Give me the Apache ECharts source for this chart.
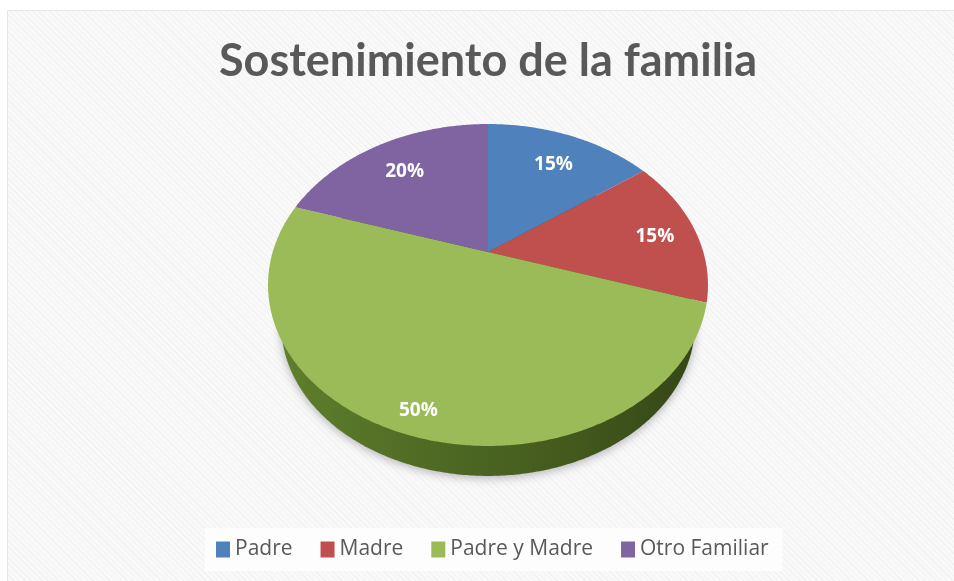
<!DOCTYPE html>
<html>
<head>
<meta charset="utf-8">
<style>
html,body{margin:0;padding:0;width:954px;height:581px;background:#fff;overflow:hidden}
#frame{position:absolute;left:7px;top:10px;width:947px;height:571px;border-left:1px solid #e6e6e6;border-top:1px solid #e6e6e6;box-sizing:border-box;
background:#f7f7f7 repeating-linear-gradient(45deg,#f2f2f2 0,#f2f2f2 1px,#f9f9f9 1px,#f9f9f9 4px)}
#chart{position:absolute;left:0;top:0;width:954px;height:581px}
</style>
</head>
<body>
<div id="frame"></div>
<div id="chart"></div>
<script src="https://cdn.jsdelivr.net/npm/echarts@6/dist/echarts.min.js"></script>
<script>
const titleText = 'Sostenimiento de la familia';
const categories = ['Padre', 'Madre', 'Padre y Madre', 'Otro Familiar'];
const shares = [15, 15, 50, 20];
const colors = ['#4f81bd', '#c0504d', '#9bbb59', '#8064a2'];

// Perspective disc model
const CX = 488, CY = 252, A = 215.3, B = 154.2, K = 0.205;
const WALL_SCALE = 0.94, WALL_DROP = 41.6;
const labelReach = [0.75, 0.8, 0.88, 0.75];
const LABEL_DROP = 3;
const total = shares.reduce((a, b) => a + b, 0);

function project(theta, r, scale, drop) {
  const u = Math.sin(theta) * r, v = Math.cos(theta) * r, d = 1 + K * v;
  return [CX + scale * A * u / d, CY + drop - scale * B * v / d];
}
function startAngle(i) {
  let s = 0;
  for (let j = 0; j < i; j++) s += shares[j];
  return s / total * 2 * Math.PI;
}
function arc(from, to, scale, drop) {
  const n = Math.max(2, Math.ceil((to - from) / 0.01));
  const pts = [];
  for (let i = 0; i <= n; i++) pts.push(project(from + (to - from) * i / n, 1, scale, drop));
  return pts;
}

const wallSeries = {
  type: 'custom', name: 'wall', coordinateSystem: 'none', silent: true, z: 1,
  data: [[total]],
  renderItem: function () {
    return {
      type: 'polygon',
      shape: { points: arc(0, 2 * Math.PI, WALL_SCALE, WALL_DROP) },
      style: {
        fill: new echarts.graphic.LinearGradient(0, 0, 1, 0, [
          { offset: 0, color: '#5f7f2b' },
          { offset: 0.35, color: '#4f6b24' },
          { offset: 0.7, color: '#43591d' },
          { offset: 1, color: '#354716' }
        ]),
        shadowBlur: 10, shadowColor: 'rgba(90,90,110,0.45)', shadowOffsetY: 2
      }
    };
  }
};

const sliceSeries = categories.map(function (name, i) {
  return {
    type: 'custom', name: name, coordinateSystem: 'none', z: 2,
    itemStyle: { color: colors[i] },
    data: [[shares[i]]],
    renderItem: function (params, api) {
      const from = startAngle(i), to = from + api.value(0) / total * 2 * Math.PI;
      const mid = (from + to) / 2;
      const pts = [project(0, 0, 1, 0)].concat(arc(from, to, 1, 0));
      const at = project(mid, labelReach[i], 1, LABEL_DROP);
      return {
        type: 'group',
        children: [
          { type: 'polygon', shape: { points: pts }, style: { fill: colors[i] } },
          {
            type: 'text', x: at[0] + 1, y: at[1], z2: 10,
            style: {
              text: api.value(0) + '%', fill: '#fff', align: 'center', verticalAlign: 'middle',
              font: 'bold 19px "Open Sans"'
            }
          }
        ]
      };
    }
  };
});

const chart = echarts.init(document.getElementById('chart'), null, { renderer: 'canvas' });
chart.setOption({
  animation: false,
  backgroundColor: 'transparent',
  title: {
    text: titleText, left: 214, top: 34,
    textStyle: { color: '#595959', fontFamily: 'Lato', fontWeight: 'bold', fontSize: 45 }
  },
  legend: {
    data: categories, left: 205, top: 528, icon: 'rect',
    itemWidth: 14, itemHeight: 16, itemGap: 28, padding: [11, 14, 11, 11],
    backgroundColor: '#fdfdfd', selectedMode: false,
    textStyle: { color: '#595959', fontFamily: 'Open Sans', fontSize: 21 }
  },
  series: [wallSeries].concat(sliceSeries)
});
</script>
</body>
</html>
